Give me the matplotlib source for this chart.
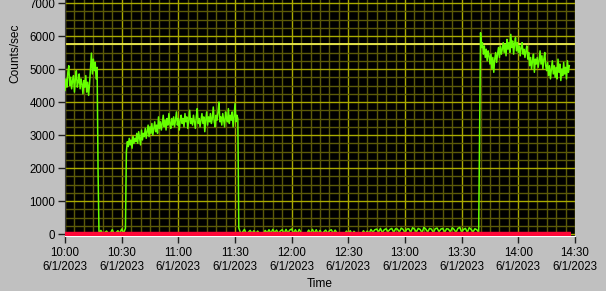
#!/usr/bin/env python3
"""Counts/sec strip chart, LabVIEW style (black plot area, yellow grid)."""

from __future__ import annotations

from datetime import datetime, timedelta

import matplotlib

matplotlib.use("Agg")
import matplotlib.dates as mdates
import matplotlib.pyplot as plt
import numpy as np
from matplotlib.ticker import FuncFormatter, MultipleLocator

START = datetime(2023, 6, 1, 10, 0)

# Each segment: (start minute after 10:00, step in minutes, counts/sec values)
seg_a_start, seg_a_step = 0.0, 0.5
seg_a_counts = [
    4350, 4700, 4450, 4900, 5100, 4500, 4750, 4400, 4650, 4800,
    4300, 4700, 4950, 4450, 4600, 4850, 4400, 4700, 4550, 4250,
    4650, 4450, 4800, 4300, 4600, 4200, 4550,
    5000, 5480, 4850, 5300, 4950, 5200, 4700, 5050,
]

drop_a_start, drop_a_step = 17.5, 0.5
drop_a_counts = [1900]

seg_b_start, seg_b_step = 18.0, 1.0
seg_b_counts = [30, 110, 10, 40, 90, 10, 20, 130, 10, 40, 100, 20, 150, 30, 170]

seg_c_start, seg_c_step = 32.5, 0.5
seg_c_counts = [
    2500, 2800, 2650, 2900, 2700, 2850, 2600, 2950, 2750, 2900,
    2800, 3050, 2750, 3100, 2900, 2700, 3150, 2850, 3050, 2950,
    3200, 2900, 3100, 3300, 2950, 3250, 3050, 3350, 3000, 3200,
    3400, 3100, 3300, 3050, 3550, 3200, 3400, 3150, 3350, 3600,
    3250, 3450, 3150, 3500, 3300, 3650, 3350, 3200, 3500, 3300,
    3550, 3250, 3450, 3700, 3300, 3500, 3150, 3450, 3600, 3350,
    3500, 3250, 3650, 3400, 3550, 3200, 3450, 3750, 3350, 3500,
    3300, 3600, 3400, 3200, 3550, 3800, 3350, 3500, 3250, 3450,
    3650, 3350, 3550, 3100, 3450, 3700, 3300, 3550, 3400, 3650,
    3350, 3500, 3850, 3400, 3250, 3600, 3450, 3700, 4000, 3400,
    3550, 3300, 3650, 3450, 3250, 3700, 3500, 3400, 3800, 3350,
    3600, 3450, 3700, 3250, 3550, 3950, 3400, 3600, 3500,
]

seg_d_start, seg_d_step = 92.0, 1.0
seg_d_counts = [
    190, 20, 60, 140, 10, 50, 110, 20, 100, 10,
    90, 10, 0, 10, 110, 30, 130, 20, 140, 40,
    120, 20, 90, 130, 10, 140, 30, 120, 150, 20,
    130, 10, 140, 40, 10, 0, 10, 120, 20, 140,
    20, 130, 10, 110, 10, 60, 120, 20, 100, 130,
    10, 120, 30, 10, 0, 10, 0, 90, 10, 100,
    0, 80, 10, 0, 10, 0, 100, 10, 90, 20,
    140, 50, 130, 150, 60, 170, 40, 130, 160, 70,
    140, 170, 50, 160, 150, 60, 180, 140, 40, 150,
    160, 50, 190, 150, 60, 170, 140, 40, 200, 150,
    60, 170, 150, 40, 160, 180, 70, 150, 170, 50,
    160, 150, 60, 190, 140, 50, 170, 200, 60, 140,
    170, 50, 190, 140, 60, 160, 130, 50,
]

rise_e_start, rise_e_step = 219.5, 0.5
rise_e_counts = [3240]

seg_e_start, seg_e_step = 220.0, 0.5
seg_e_counts = [
    6100, 5650, 5800, 5450, 5700, 5350, 5600, 5250, 5550, 5400,
    5150, 5450, 5000, 5350, 4900, 5300, 5500, 5200, 5450, 5650,
    5350, 5700, 5450, 5600, 5800, 5500, 5750, 5400, 5900, 5600,
    5800, 5500, 6050, 5650, 5850, 5450, 5750, 5950, 5550, 5800,
    5500, 5700, 5400, 5650, 5800, 5450, 5600, 5350, 5550, 5700,
    5300, 5500, 5100, 5350, 5000, 5250, 5450, 4900, 5300, 5150,
    5350, 5050, 5250, 5550, 5150, 5400, 5000, 5300, 5500, 5100,
    4950, 5200, 4800, 5100, 4700, 5000, 5250, 4850, 5100, 4750,
    5050, 4700, 5300, 4900, 5150, 4650, 5000, 4800, 5200, 4850,
    5050, 4700, 5250, 4900, 5100,
]

# Second plot: flat zero trace, and the limit line
zero_trace_minutes = [0.0, 268.0]
zero_trace_counts = [0, 0]
limit_counts = 5750

y_ticks = [0, 1000, 2000, 3000, 4000, 5000, 6000, 7000]

SEGMENTS = [
    (seg_a_start, seg_a_step, seg_a_counts),
    (drop_a_start, drop_a_step, drop_a_counts),
    (seg_b_start, seg_b_step, seg_b_counts),
    (seg_c_start, seg_c_step, seg_c_counts),
    (seg_d_start, seg_d_step, seg_d_counts),
    (rise_e_start, rise_e_step, rise_e_counts),
    (seg_e_start, seg_e_step, seg_e_counts),
]


def _to_time(minutes):
    return [START + timedelta(minutes=float(m)) for m in minutes]


def _build_series():
    times = []
    counts = []
    for start, step, vals in SEGMENTS:
        mins = start + step * np.arange(len(vals))
        times.extend(_to_time(mins))
        counts.extend(vals)
    return times, counts


def _fmt_time(x, pos):
    dt = mdates.num2date(x)
    return f"{dt.hour}:{dt.minute:02d}\n{dt.month}/{dt.day}/{dt.year}"


def main() -> None:
    plt.rcParams["font.family"] = ["Liberation Sans", "DejaVu Sans"]
    fig = plt.figure(figsize=(6.06, 2.91), dpi=100, facecolor="#c0c0c0")
    ax = fig.add_axes([65 / 606, 55 / 291, 510 / 606, 236 / 291])
    ax.set_facecolor("black")

    times, counts = _build_series()

    ax.set_xlim(START, START + timedelta(minutes=270))
    ax.set_ylim(-60, 7091)

    ax.xaxis.set_major_locator(mdates.MinuteLocator(byminute=[0, 30]))
    ax.xaxis.set_minor_locator(mdates.MinuteLocator(byminute=range(0, 60, 5)))
    ax.xaxis.set_major_formatter(FuncFormatter(_fmt_time))
    ax.set_yticks(y_ticks)
    ax.yaxis.set_minor_locator(MultipleLocator(250))

    ax.grid(which="minor", color="#5c5a08", lw=1.0)
    ax.grid(which="major", color="#aaaa00", lw=1.0)
    ax.set_axisbelow(True)

    ax.axhline(limit_counts, color="#f0ee50", lw=1.3, zorder=2)
    ax.plot(times, counts, color="#66ff00", lw=1.1, zorder=3)
    ax.plot(_to_time(zero_trace_minutes), zero_trace_counts,
            color="#ff0838", lw=3.2, solid_capstyle="butt", zorder=4)

    for side in ("top", "right"):
        ax.spines[side].set_visible(False)
    ax.spines["left"].set_color("#404040")
    ax.spines["bottom"].set_color("white")

    ax.tick_params(which="major", length=5, width=1, color="#202020",
                   labelsize=8.3, labelcolor="black", pad=2)
    ax.tick_params(which="minor", length=0)
    ax.tick_params(axis="x", which="major", pad=3)
    for lbl in ax.get_xticklabels():
        lbl.set_linespacing(1.25)

    ax.set_xlabel("Time", fontsize=8.6, labelpad=3)
    fig.text(15 / 606, 1 - 53 / 291, "Counts/sec", rotation=90,
             ha="center", va="center", fontsize=8.6)

    fig.savefig("out.png", dpi=100, facecolor=fig.get_facecolor())
    plt.close(fig)


if __name__ == "__main__":
    main()
